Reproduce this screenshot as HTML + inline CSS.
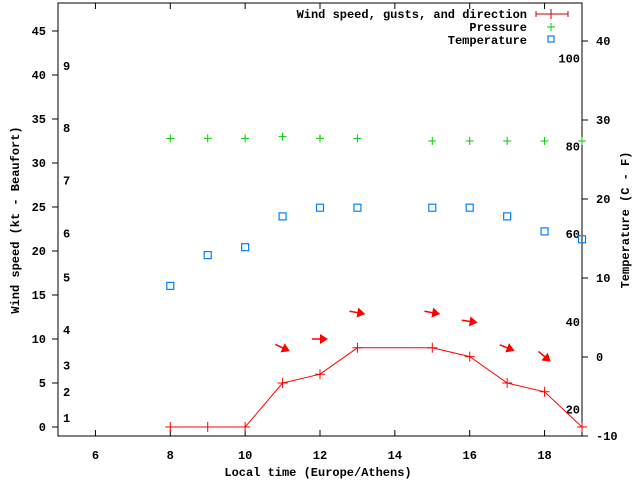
<!DOCTYPE html>
<html><head><meta charset="utf-8"><style>
html,body{margin:0;padding:0;background:#fff}
svg text{font-family:"Liberation Mono",monospace;font-weight:bold;font-size:12px;fill:#000}
</style></head><body>
<svg id="chart" width="640" height="480" xmlns="http://www.w3.org/2000/svg">
<g id="grid"></g>
</svg>
<script>
const hours=[8,9,10,11,12,13,15,16,17,18,19];
const windKt=[0,0,0,5,6,9,9,8,5,4,0];
const pressure=[32.8,32.8,32.8,33.0,32.8,32.8,32.5,32.5,32.5,32.5,32.5];
const tempC=[9.0,12.9,13.9,17.8,18.9,18.9,18.9,18.9,17.8,15.9,14.9];
const arrowHours=[11,12,13,15,16,17,18];
const arrowKt=[9,10,13,13,12,9,8];
const arrowDeg=[25,0,10,10,8,22,40];
const xTicks=[6,8,10,12,14,16,18];
const yTicks=[0,5,10,15,20,25,30,35,40,45];
const cTicks=[-10,0,10,20,30,40];
const fTicks=[20,40,60,80,100];
const bftLabels=[1,2,3,4,5,6,7,8,9];
const bftKt=[1,4,7,11,17,22,28,34,41];

const L=58,R=582,T=3,B=436;
const X=h=>L+(h-5)/(19-5)*(R-L);
const Y=k=>427-k*8.8;
const YC=c=>357-c*7.9;
const svg=document.getElementById('chart');
const NS='http://www.w3.org/2000/svg';
function el(tag,attrs,parent){const e=document.createElementNS(NS,tag);for(const k in attrs)e.setAttribute(k,attrs[k]);(parent||svg).appendChild(e);return e;}
function txt(x,y,s,anchor){const t=el('text',{x:x,y:y,'text-anchor':anchor||'start'});t.textContent=s;return t;}

let f=el('rect',{x:L,y:T,width:R-L,height:B-T,fill:'none',stroke:'#000','stroke-width':1});



xTicks.forEach(h=>{
  let a=el('line',{x1:X(h),x2:X(h),y1:B,y2:B-6,stroke:'#000'});
  
  
  let b=el('line',{x1:X(h),x2:X(h),y1:T,y2:T+6,stroke:'#000'});
  
  
  let t=txt(X(h),459,String(h),'middle');
  
  
});
yTicks.forEach(v=>{
  let a=el('line',{x1:L-6,x2:L,y1:Y(v),y2:Y(v),stroke:'#000'});
  
  
  let t=txt(46,Y(v)+4,String(v),'end');
  
  
});
cTicks.forEach(v=>{
  let a=el('line',{x1:R,x2:R+6,y1:YC(v),y2:YC(v),stroke:'#000'});
  
  
  let t=txt(596,YC(v)+4,String(v),'start');
  
  
});
fTicks.forEach(v=>{
  let t=txt(580,YC((v-32)*5/9)+4,String(v),'end');
  
  
});
bftLabels.forEach((b,i)=>{
  let t=txt(63,Y(bftKt[i])+4,String(b),'start');
  
  
});

let yt=txt(0,0,'Wind speed (kt - Beaufort)','middle');
yt.setAttribute('transform','translate(19,220) rotate(-90)');


let y2t=txt(0,0,'Temperature (C - F)','middle');
y2t.setAttribute('transform','translate(629,220) rotate(-90)');


let xt=txt(318,476,'Local time (Europe/Athens)','middle');



// wind line
let pts=hours.map((h,i)=>X(h)+','+Y(windKt[i])).join(' ');
let wl=el('polyline',{points:pts,fill:'none',stroke:'#f00','stroke-width':1});


hours.forEach((h,i)=>{
  let p=el('path',{d:`M${X(h)-5},${Y(windKt[i])}h10M${X(h)},${Y(windKt[i])-5}v10`,stroke:'#f00','stroke-width':1});
  
  
});
// pressure
hours.forEach((h,i)=>{
  let p=el('path',{d:`M${X(h)-4},${Y(pressure[i])}h8M${X(h)},${Y(pressure[i])-4}v8`,stroke:'#0c0','stroke-width':1});
  
  
});
// temperature
hours.forEach((h,i)=>{
  let p=el('rect',{x:X(h)-3.5,y:YC(tempC[i])-3.5,width:7,height:7,fill:'none',stroke:'#0080ff','stroke-width':1.2});
  
  
});
// arrows
arrowHours.forEach((h,i)=>{
  const g=el('g',{transform:`translate(${X(h)},${Y(arrowKt[i])}) rotate(${arrowDeg[i]})`});
  
  
  el('line',{x1:-8,y1:0,x2:2,y2:0,stroke:'#f00','stroke-width':1.5},g);
  el('polygon',{points:'0,-5 8,0 0,5',fill:'#f00'},g);
});

// legend
const lg=el('g',{});


let l1=txt(527,18,'Wind speed, gusts, and direction','end');


el('path',{d:'M536,14h32M536,11v6M568,11v6M551,9v10',stroke:'#c00','stroke-width':1});
let l2=txt(527,31,'Pressure','end');


el('path',{d:'M547,27h8M551,23v8',stroke:'#0c0','stroke-width':1});
let l3=txt(527,44,'Temperature','end');


el('rect',{x:548,y:36,width:6,height:6,fill:'none',stroke:'#0080ff','stroke-width':1.2});
</script>
</body></html>
